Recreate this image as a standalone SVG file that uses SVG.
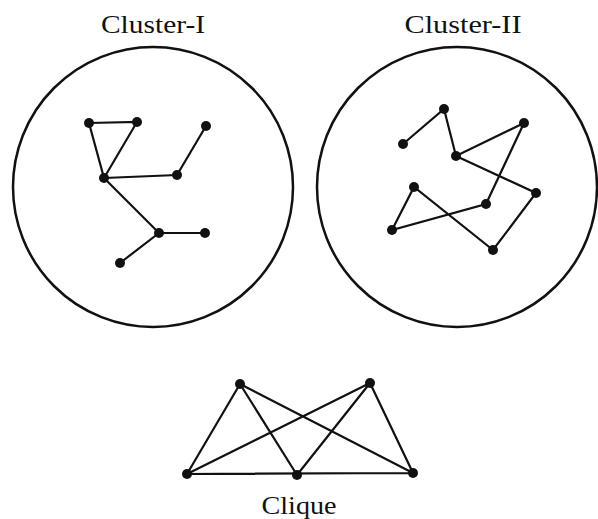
<svg xmlns="http://www.w3.org/2000/svg" width="598" height="519" viewBox="0 0 598 519">
<style>
.lbl{font-family:"Liberation Serif","DejaVu Serif",serif;font-size:26px;fill:#111;text-anchor:middle}
.ring{fill:none;stroke:#111;stroke-width:2.5}
.e{stroke:#111;stroke-width:2.2;fill:none;stroke-linecap:round}
.n{fill:#111}
</style>
<rect width="598" height="519" fill="#fff"/>
<g id="cluster1">
<circle class="ring" cx="153" cy="187" r="140"/>
<text class="lbl" x="153" y="33" textLength="104" lengthAdjust="spacingAndGlyphs">Cluster-I</text>
</g>
<g id="cluster2">
<circle class="ring" cx="457" cy="187" r="140"/>
<text class="lbl" x="463" y="33" textLength="117" lengthAdjust="spacingAndGlyphs">Cluster-II</text>
</g>
<g id="clique-label">
<text class="lbl" x="299" y="514" textLength="75" lengthAdjust="spacingAndGlyphs">Clique</text>
</g>
<g id="connectors">
<path class="e" d="M89,123 L137,122 L104,178 Z M104,178 L177,175 L206,126 M104,178 L159,233 L205,233 M159,233 L120,263"/>
<path class="e" d="M403,144 L444,109 L456,156 L524,123 L486,204 L392,230 L414,187 L493,250 L536,193 L456,156"/>
<path class="e" d="M187,474 L413,473 M240,384 L187,474 M240,384 L297,475 M240,384 L413,473 M370,383 L187,474 M370,383 L297,475 M370,383 L413,473"/>
</g>
<g id="nodes1" class="n">
<circle cx="89" cy="123" r="5"/><circle cx="137" cy="122" r="5"/><circle cx="206" cy="126" r="5"/>
<circle cx="104" cy="178" r="5"/><circle cx="177" cy="175" r="5"/><circle cx="159" cy="233" r="5"/>
<circle cx="205" cy="233" r="5"/><circle cx="120" cy="263" r="5"/>
</g>
<g id="nodes2" class="n">
<circle cx="403" cy="144" r="5"/><circle cx="444" cy="109" r="5"/><circle cx="524" cy="123" r="5"/>
<circle cx="456" cy="156" r="5"/><circle cx="414" cy="187" r="5"/><circle cx="536" cy="193" r="5"/>
<circle cx="486" cy="204" r="5"/><circle cx="392" cy="230" r="5"/><circle cx="493" cy="250" r="5"/>
</g>
<g id="nodes3" class="n">
<circle cx="240" cy="384" r="5"/><circle cx="370" cy="383" r="5"/><circle cx="187" cy="474" r="5"/>
<circle cx="297" cy="475" r="5"/><circle cx="413" cy="473" r="5"/>
</g>
</svg>
